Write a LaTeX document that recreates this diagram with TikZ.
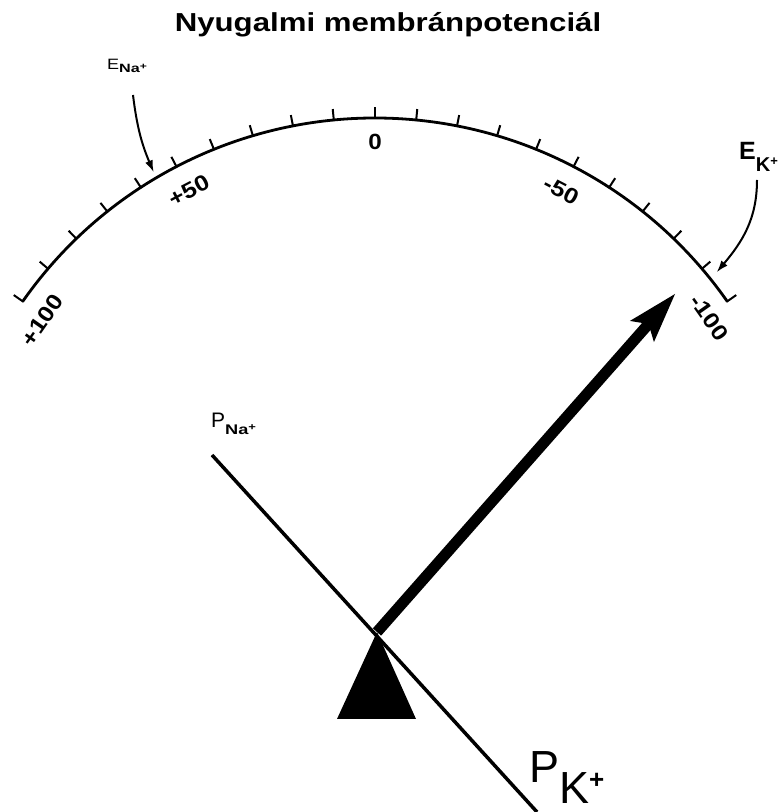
\documentclass[tikz,border=0pt]{standalone}
\usepackage{graphicx}
\usepackage{fontspec}
\setmainfont{Liberation Sans}
\usetikzlibrary{arrows.meta,calc}
\newcommand{\stretchtxt}[2]{\scalebox{#1}[1]{#2}}
\begin{document}
\begin{tikzpicture}[x=1pt,y=1pt,
  scalelbl/.style={font=\fontsize{22}{22}\selectfont\bfseries, inner sep=0pt},
  ionlbl/.style={inner sep=0pt, anchor=base west},
  arcline/.style={line width=2.8pt},
  tickline/.style={line width=2pt},
  thinarrow/.style={line width=2pt, -{Latex[length=12pt,width=8pt]}},
  bigarrow/.style={line width=11pt, -{Stealth[length=50pt,width=32pt,inset=10pt,line width=0pt]}},
  balance/.style={line width=3.5pt}
]
\useasboundingbox (0,0) rectangle (778,812);
\coordinate (C) at (375,264);

% title
\node[font=\fontsize{26}{26}\selectfont\bfseries, anchor=base, inner sep=0pt] (title) at (388,780)
  {\stretchtxt{1.2}{Nyugalmi membránpotenciál}};

% scale arc
\draw[arcline] ($(C)+(145:430)$) arc[start angle=145,end angle=35,radius=430];
\foreach \v in {-100,-90,...,100} {
  \pgfmathsetmacro\ang{90+0.55*\v}
  \draw[tickline] ($(C)+(\ang:429)$) -- ($(C)+(\ang:441)$);
}
\node[scalelbl, rotate=55]    (Lpa) at ($(C)+(145.6:403)$) {\stretchtxt{1.15}{+100}};
\node[scalelbl, rotate=27.5]  (Lpb) at ($(C)+(117.5:403)$) {\stretchtxt{1.15}{+50}};
\node[scalelbl]               (Lz)  at ($(C)+(90:406)$) {\stretchtxt{1.1}{0}};
\node[scalelbl, rotate=-27.5] (Lmb) at ($(C)+(62.5:403)$) {\stretchtxt{1.15}{-50}};
\node[scalelbl, rotate=-55]   (Lma) at ($(C)+(34.6:406)$) {\stretchtxt{1.15}{-100}};

% equilibrium potential labels
\node[ionlbl] (ENa) at (107,742)
  {\fontsize{15}{15}\selectfont\stretchtxt{1.2}{E}\raisebox{-3pt}{\fontsize{12}{12}\selectfont\bfseries\stretchtxt{1.35}{Na\raisebox{3pt}{\fontsize{9}{9}\selectfont +}}}};
\node[ionlbl] (EK) at (739,652)
  {\fontsize{25}{25}\selectfont\bfseries E\raisebox{-12pt}{\fontsize{20}{20}\selectfont K\raisebox{6pt}{\fontsize{13}{13}\selectfont +}}};
\coordinate (enastart) at (133,717);
\coordinate (enatip) at ($(C)+(120.5:436)$);
\coordinate (ekstart) at (757,632);
\coordinate (ektip) at ($(C)+(38.9:439)$);
\draw[thinarrow] (enastart) to[bend right=8] (enatip);
\draw[thinarrow] (ekstart) to[out=-90,in=50] (ektip);

% balance
\coordinate (pivot) at (377,180);
\coordinate (tip) at (675,518);
\coordinate (pnatop) at (212,357);
\coordinate (pkbot) at (537,0);
\coordinate (baseL) at (337,93);
\coordinate (baseR) at (416,93);
\fill (pivot) -- (baseL) -- (baseR) -- cycle;
\draw[balance] (pnatop) -- (pkbot);
\draw[bigarrow] (pivot) -- (tip);

\node[ionlbl] (PNa) at (211,384)
  {\fontsize{21}{21}\selectfont P\raisebox{-7pt}{\fontsize{14}{14}\selectfont\bfseries\stretchtxt{1.3}{Na\raisebox{4pt}{\fontsize{10}{10}\selectfont +}}}};
\node[ionlbl] (PK) at (529,29)
  {\fontsize{45}{45}\selectfont P\raisebox{-20pt}{K\raisebox{15pt}{\fontsize{26}{26}\selectfont\bfseries +}}};
\end{tikzpicture}
\end{document}
